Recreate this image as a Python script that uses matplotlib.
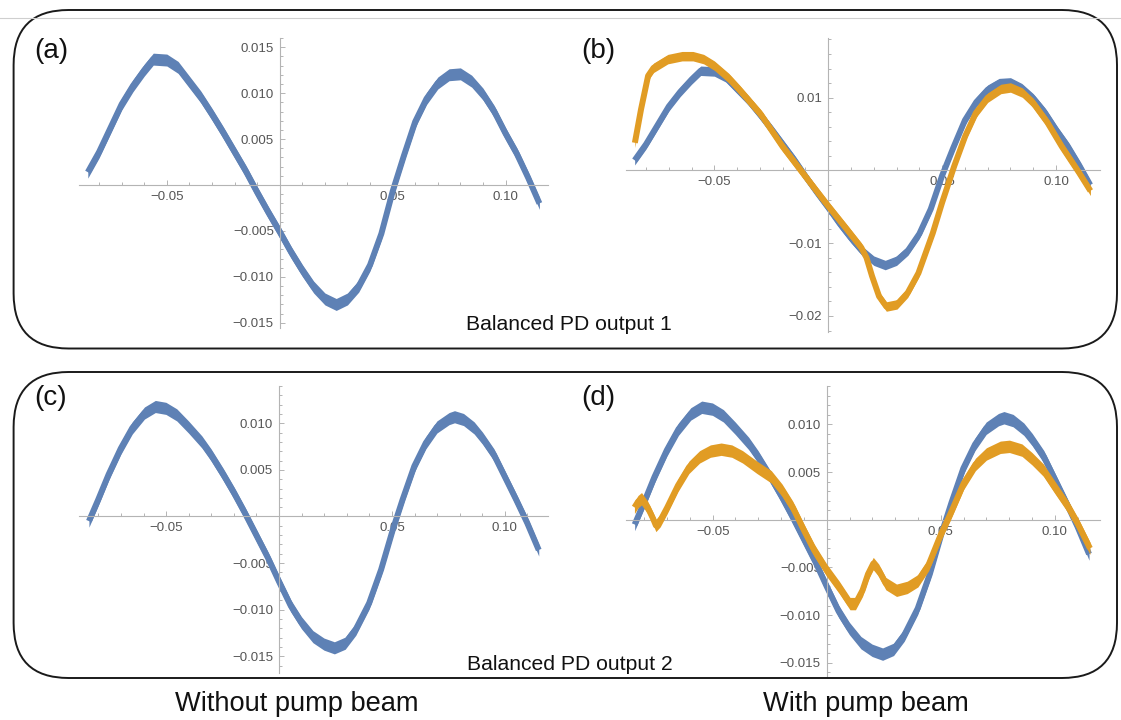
import numpy as np
import matplotlib
matplotlib.use('Agg')
import matplotlib.pyplot as plt
from matplotlib.patches import FancyBboxPatch
from matplotlib.transforms import IdentityTransform
from matplotlib.ticker import MultipleLocator

plt.rcParams['font.family'] = ['Liberation Sans', 'DejaVu Sans']

# balanced PD output 1, no pump (a) and (b, blue)
x_out1 = [-0.085, -0.080, -0.075, -0.070, -0.065, -0.060, -0.056, -0.050, -0.045, -0.040,
          -0.035, -0.030, -0.025, -0.020, -0.015, -0.010, -0.005, 0.000, 0.005, 0.010,
          0.015, 0.020, 0.025, 0.030, 0.035, 0.040, 0.045, 0.050, 0.055, 0.060,
          0.065, 0.070, 0.075, 0.080, 0.085, 0.090, 0.095, 0.100, 0.105, 0.110, 0.115]
y_out1 = [0.0014, 0.0036, 0.0062, 0.0088, 0.0108, 0.0125, 0.0137, 0.0136, 0.0128, 0.0112,
          0.0096, 0.0077, 0.0057, 0.0036, 0.0015, -0.0008, -0.0030, -0.0051, -0.0073, -0.0093,
          -0.0111, -0.0124, -0.0130, -0.0124, -0.0110, -0.0087, -0.0053, -0.0007, 0.0032, 0.0069,
          0.0094, 0.0111, 0.0120, 0.0121, 0.0113, 0.0099, 0.0080, 0.0056, 0.0034, 0.0008, -0.0020]

# balanced PD output 1, with pump (b, orange)
x_out1_pump = [-0.0849, -0.0822, -0.0791, -0.0767, -0.0704, -0.0642, -0.0594, -0.0547, -0.0500,
               -0.0437, -0.0390, -0.0296, -0.0201, -0.0101, 0.0000, 0.0082, 0.0145, 0.0168,
               0.0192, 0.0223, 0.0255, 0.0302, 0.0349, 0.0396, 0.0459, 0.0500, 0.0553,
               0.0601, 0.0648, 0.0700, 0.0758, 0.0800, 0.0852, 0.0899, 0.0962, 0.1025,
               0.1101, 0.1151]
y_out1_pump = [0.0038, 0.0084, 0.0130, 0.0141, 0.0153, 0.0157, 0.0157, 0.0153, 0.0144,
               0.0127, 0.0111, 0.0077, 0.0033, -0.0008, -0.0049, -0.0081, -0.0106, -0.0120,
               -0.0145, -0.0173, -0.0187, -0.0184, -0.0168, -0.0141, -0.0086, -0.0044, 0.0006,
               0.0047, 0.0079, 0.0100, 0.0112, 0.0114, 0.0107, 0.0093, 0.0066, 0.0033,
               -0.0003, -0.0028]

# balanced PD output 2, no pump (c) and (d, blue)
x_out2 = [-0.0842, -0.0801, -0.0755, -0.0701, -0.0650, -0.0596, -0.0548, -0.0501, -0.0453,
          -0.0401, -0.0342, -0.0301, -0.0247, -0.0199, -0.0152, -0.0101, -0.0048, 0.0000,
          0.0052, 0.0099, 0.0150, 0.0199, 0.0245, 0.0293, 0.0340, 0.0399, 0.0452, 0.0504,
          0.0547, 0.0599, 0.0650, 0.0699, 0.0753, 0.0777, 0.0817, 0.0864, 0.0901, 0.0952,
          0.0999, 0.1050, 0.1099, 0.1150]
y_out2 = [-0.0005, 0.0018, 0.0045, 0.0073, 0.0095, 0.0111, 0.0118, 0.0116, 0.0109,
          0.0096, 0.0080, 0.0066, 0.0045, 0.0025, 0.0004, -0.0020, -0.0045, -0.0070,
          -0.0096, -0.0114, -0.0129, -0.0137, -0.0141, -0.0136, -0.0121, -0.0093, -0.0057, -0.0014,
          0.0018, 0.0054, 0.0079, 0.0096, 0.0105, 0.0107, 0.0104, 0.0095, 0.0084, 0.0066,
          0.0043, 0.0018, -0.0007, -0.0036]

# balanced PD output 2, with pump (d, orange)
x_out2_pump = [-0.0843, -0.0827, -0.0812, -0.0785, -0.0761, -0.0749, -0.0730, -0.0699, -0.0652,
               -0.0604, -0.0557, -0.0510, -0.0463, -0.0416, -0.0369, -0.0306, -0.0243, -0.0196,
               -0.0149, -0.0100, -0.0055, 0.0000, 0.0055, 0.0102, 0.0126, 0.0157, 0.0181,
               0.0204, 0.0228, 0.0259, 0.0306, 0.0353, 0.0400, 0.0447, 0.0501, 0.0542,
               0.0600, 0.0652, 0.0700, 0.0761, 0.0801, 0.0856, 0.0900, 0.0950, 0.1000,
               0.1060, 0.1100, 0.1154]
y_out2_pump = [0.0013, 0.0019, 0.0022, 0.0013, 0.0001, -0.0006, -0.0001, 0.0013, 0.0036,
               0.0055, 0.0066, 0.0072, 0.0074, 0.0072, 0.0066, 0.0055, 0.0045, 0.0031,
               0.0013, -0.0011, -0.0032, -0.0053, -0.0071, -0.0088, -0.0088, -0.0074, -0.0057,
               -0.0046, -0.0053, -0.0067, -0.0074, -0.0071, -0.0064, -0.0047, -0.0015, 0.0006,
               0.0038, 0.0058, 0.0069, 0.0076, 0.0077, 0.0073, 0.0064, 0.0052, 0.0034,
               0.0013, -0.0004, -0.0030]

x_ticks = [-0.05, 0.05, 0.10]
x_labels = ['\u22120.05', '0.05', '0.10']
y_ticks_fine = [-0.015, -0.010, -0.005, 0.005, 0.010, 0.015]
y_labels_fine = ['\u22120.015', '\u22120.010', '\u22120.005', '0.005', '0.010', '0.015']
y_ticks_coarse = [-0.02, -0.01, 0.01]
y_labels_coarse = ['\u22120.02', '\u22120.01', '0.01']

BLUE = '#5E81B5'
ORANGE = '#E19C24'
AXIS = '#b4b4b4'
NOISE = 0.00065  # half height of the noise band

W, H = 1121, 720
fig = plt.figure(figsize=(W / 100, H / 100), dpi=100)


def fx(px):
    return px / W


def fy(py):
    return 1 - py / H


def panel(left, top, right, bottom, xlim, ylim, yt, yl, ymin):
    ax = fig.add_axes([fx(left), fy(bottom), fx(right - left), (bottom - top) / H])
    ax.patch.set_visible(False)
    ax.set_xlim(*xlim)
    ax.set_ylim(*ylim)
    for s in ['top', 'right']:
        ax.spines[s].set_visible(False)
    for s in ['left', 'bottom']:
        ax.spines[s].set_position(('data', 0))
        ax.spines[s].set_color(AXIS)
        ax.spines[s].set_linewidth(0.8)
    ax.set_xticks(x_ticks, x_labels)
    ax.set_yticks(yt, yl)
    ax.xaxis.set_minor_locator(MultipleLocator(0.01))
    ax.yaxis.set_minor_locator(MultipleLocator(ymin))
    ax.tick_params(which='both', direction='in', color=AXIS, width=0.7,
                   labelcolor='#555555', labelsize=9.5, pad=4.3)
    ax.tick_params(which='major', length=3.8)
    ax.tick_params(which='minor', length=2.2)
    return ax


def trace(ax, x, y, color, z):
    x = np.asarray(x)
    y = np.asarray(y)
    ax.fill_between(x, y - NOISE, y + NOISE, color=color, lw=0, zorder=z)
    ax.plot(x, y, color=color, lw=4.3, solid_capstyle='butt', zorder=z)


ax_a = panel(79, 38, 548, 328, (-0.0889, 0.1188), (-0.01556, 0.0160),
             y_ticks_fine, y_labels_fine, 0.001)
trace(ax_a, x_out1, y_out1, BLUE, 2)

ax_b = panel(626, 38, 1100, 332, (-0.0888, 0.1193), (-0.0222, 0.0182),
             y_ticks_coarse, y_labels_coarse, 0.002)
trace(ax_b, x_out1, y_out1, BLUE, 2)
trace(ax_b, x_out1_pump, y_out1_pump, ORANGE, 3)

ax_c = panel(79, 386, 548, 673, (-0.0886, 0.1191), (-0.0168, 0.0140),
             y_ticks_fine[:-1], y_labels_fine[:-1], 0.001)
trace(ax_c, x_out2, y_out2, BLUE, 2)

ax_d = panel(626, 386, 1100, 677, (-0.0880, 0.1198), (-0.0165, 0.01403),
             y_ticks_fine[:-1], y_labels_fine[:-1], 0.001)
trace(ax_d, x_out2, y_out2, BLUE, 2)
trace(ax_d, x_out2_pump, y_out2_pump, ORANGE, 3)

# frames around each row, in pixel units
for top, bottom in [(10, 348.5), (372, 678)]:
    box = FancyBboxPatch((13.6, H - bottom), 1117 - 13.6, bottom - top,
                         boxstyle='round,pad=0,rounding_size=55',
                         transform=IdentityTransform(), fill=False,
                         ec='#1a1a1a', lw=1.4, zorder=0)
    fig.patches.append(box)

fig.add_artist(plt.Line2D([0, 1], [fy(18), fy(18)], color='#cfcfcf', lw=0.8))

for lab, x, y in [('(a)', 34, 38), ('(b)', 581, 38), ('(c)', 34, 385), ('(d)', 581, 385)]:
    fig.text(fx(x), fy(y), lab, ha='left', va='top', fontsize=20, color='#111111')

fig.text(fx(466), fy(330.5), 'Balanced PD output 1', ha='left', va='baseline',
         fontsize=15.2, color='#111111')
fig.text(fx(467), fy(670), 'Balanced PD output 2', ha='left', va='baseline',
         fontsize=15.2, color='#111111')
fig.text(fx(296.5), fy(711), 'Without pump beam', ha='center', va='baseline',
         fontsize=19.6, color='#111111')
fig.text(fx(865.5), fy(711), 'With pump beam', ha='center', va='baseline',
         fontsize=19.6, color='#111111')

fig.savefig('out.png', dpi=100)
